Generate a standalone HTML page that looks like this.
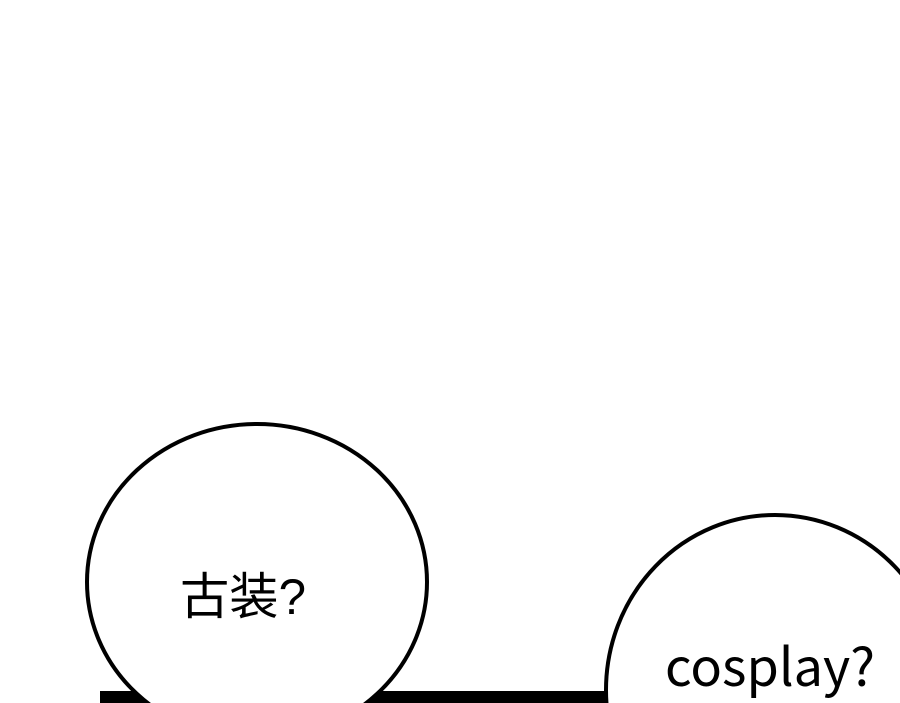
<!DOCTYPE html>
<html><head><meta charset="utf-8"><style>
html,body{margin:0;padding:0;background:#fff;width:900px;height:703px;overflow:hidden}
svg{display:block}
</style></head><body>
<svg width="900" height="703" viewBox="0 0 900 703" xmlns="http://www.w3.org/2000/svg">
<rect x="0" y="0" width="900" height="703" fill="#fff"/>
<rect x="100" y="691" width="510" height="12" fill="#000"/>
<ellipse cx="257" cy="582" rx="170" ry="158" fill="#fff" stroke="#000" stroke-width="4"/>
<ellipse cx="775" cy="690" rx="169" ry="175" fill="#fff" stroke="#000" stroke-width="4"/>
<text x="180" y="614" font-family="'Liberation Sans','Noto Sans CJK SC',sans-serif" font-size="50" textLength="126" lengthAdjust="spacingAndGlyphs" fill="#000">古装?</text>
<text x="665" y="686" font-family="'Noto Sans CJK SC','Liberation Sans',sans-serif" font-size="52" textLength="210" lengthAdjust="spacingAndGlyphs" fill="#000">cosplay?</text>
</svg>
</body></html>
